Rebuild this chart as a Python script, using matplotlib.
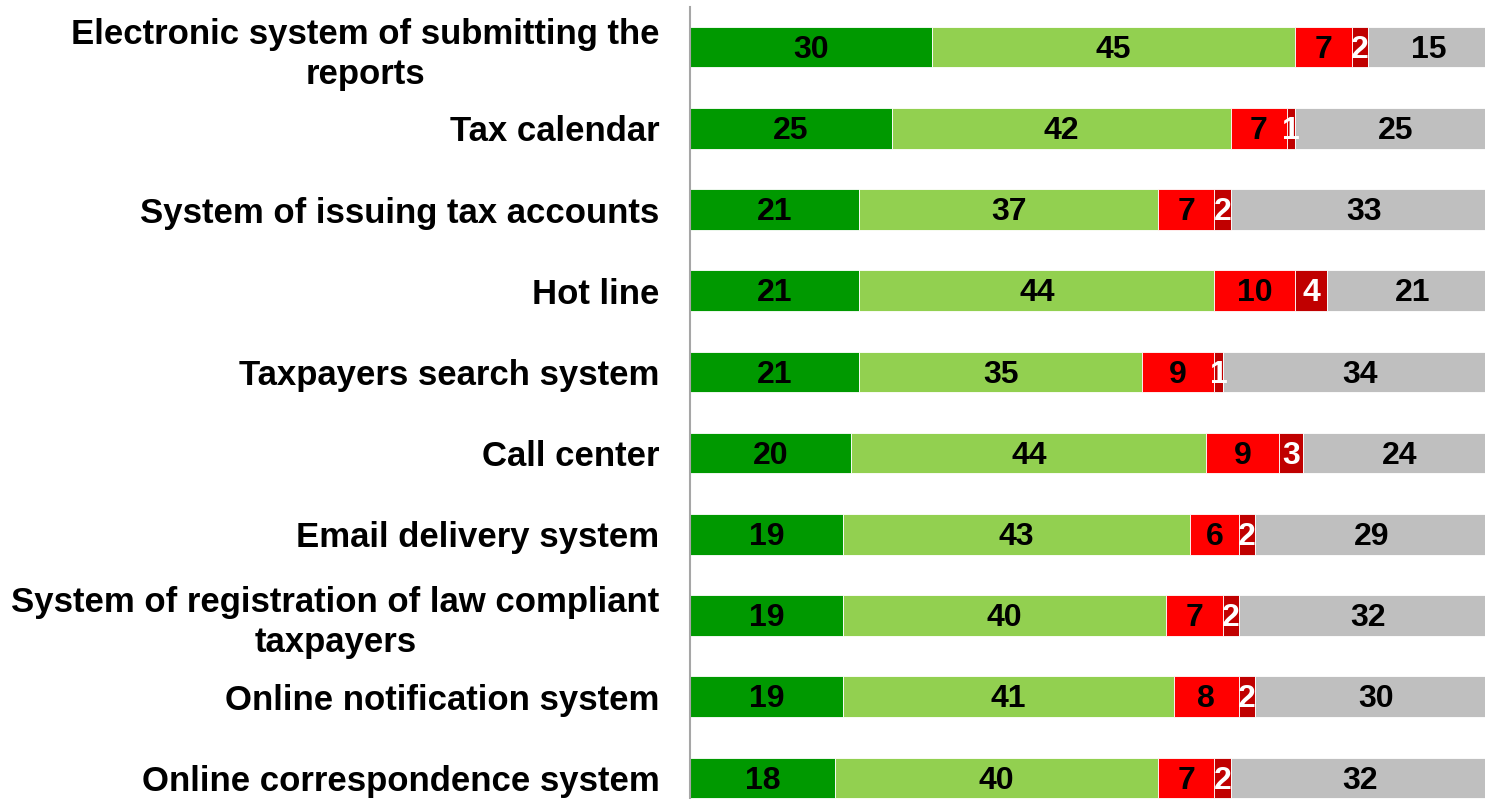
import numpy as np
import matplotlib.pyplot as plt

plt.rcParams['font.family'] = ['Liberation Sans', 'DejaVu Sans']

categories = [
    'Electronic system of submitting the\nreports',
    'Tax calendar',
    'System of issuing tax accounts',
    'Hot line',
    'Taxpayers search system',
    'Call center',
    'Email delivery system',
    'System of registration of law compliant\ntaxpayers',
    'Online notification system',
    'Online correspondence system',
]

very_good = [30, 25, 21, 21, 21, 20, 19, 19, 19, 18]
good = [45, 42, 37, 44, 35, 44, 43, 40, 41, 40]
bad = [7, 7, 7, 10, 9, 9, 6, 7, 8, 7]
very_bad = [2, 1, 2, 4, 1, 3, 2, 2, 2, 2]
no_answer = [15, 25, 33, 21, 34, 24, 29, 32, 30, 32]

series = [very_good, good, bad, very_bad, no_answer]
colors = ['#009900', '#92D050', '#FF0000', '#C00000', '#BFBFBF']
text_colors = ['black', 'black', 'black', 'white', 'black']

fig = plt.figure(figsize=(14.85, 7.99), dpi=100)
ax = fig.add_axes([0.4646, -0.0245, 0.5434, 1.0163])

y = np.arange(len(categories))
left = np.zeros(len(categories))
for vals, col, tcol in zip(series, colors, text_colors):
    vals = np.array(vals, dtype=float)
    ax.barh(y, vals, left=left, height=0.5, color=col,
            edgecolor='white', linewidth=0.6)
    for yi, l, v in zip(y, left, vals):
        # baseline a bit below the bar centre so the digits sit centred
        ax.text(l + v / 2, yi + 0.13, '%d' % v, ha='center', va='baseline',
                fontsize=23, fontweight='bold', color=tcol)
    left += vals

ax.set_xlim(0, 100)
ax.set_ylim(9.5, -0.5)
ax.set_yticks(y)
ax.set_yticklabels(categories, fontsize=25, fontweight='bold',
                   multialignment='center', linespacing=1.27)
ax.tick_params(axis='y', length=0, pad=22)
ax.set_xticks([])
for s in ['top', 'right', 'bottom']:
    ax.spines[s].set_visible(False)
ax.spines['left'].set_color('#A6A6A6')
ax.spines['left'].set_linewidth(1.5)

fig.savefig('out.png', dpi=100)
